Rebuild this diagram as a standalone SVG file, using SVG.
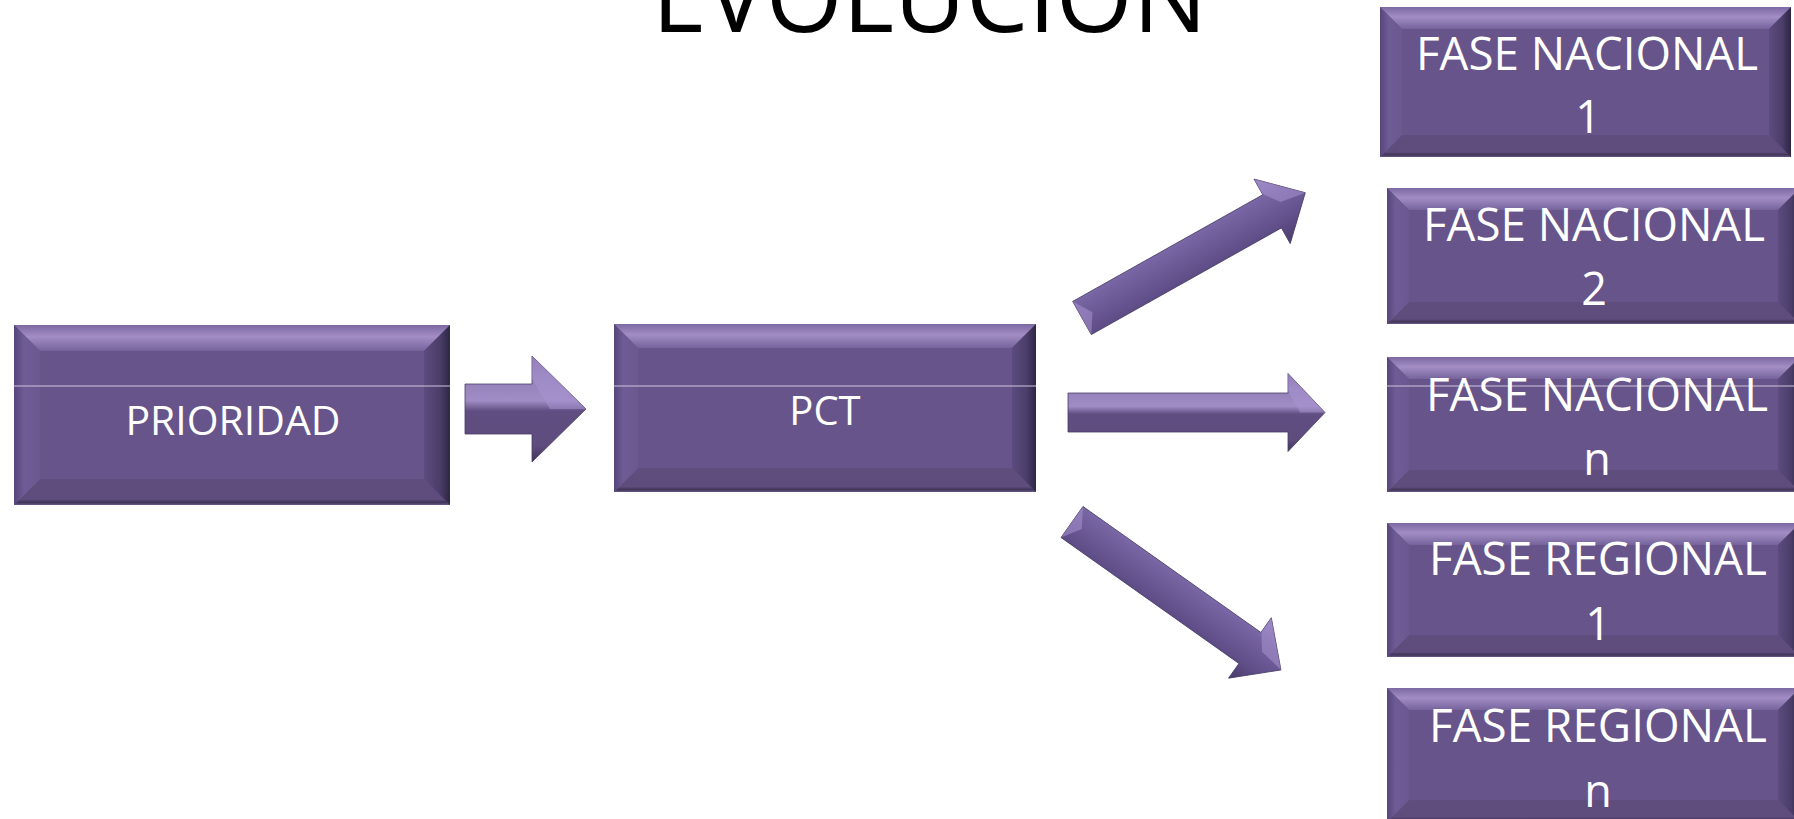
<svg xmlns="http://www.w3.org/2000/svg" width="1794" height="819" viewBox="0 0 1794 819">
<style>
.face{fill:#67548a}
.bt{fill:url(#gTop)}
.bb{fill:url(#gBot)}
.bl{fill:url(#gLeft)}
.br{fill:url(#gRight)}
.lbl{fill:#ffffff;font-family:"Open Sans","Liberation Sans",sans-serif;text-anchor:middle}
.title{fill:#000000;font-family:"Open Sans","Liberation Sans",sans-serif;font-size:98px}
.hl{stroke:#cdc3dc;stroke-width:1.2}
.ashaft{fill:url(#gArrowH);stroke:#4a3d68;stroke-width:0.8}
.adiag{fill:url(#gArrowD);stroke:#4a3d68;stroke-width:0.8}
.facet{fill:#a893cf;opacity:0.55}
</style>
<defs>
<linearGradient id="gTop" x1="0" y1="0" x2="0" y2="1">
<stop offset="0" stop-color="#7d69a2"/><stop offset="0.45" stop-color="#a28ec4"/><stop offset="1" stop-color="#76639c"/>
</linearGradient>
<linearGradient id="gBot" x1="0" y1="0" x2="0" y2="1">
<stop offset="0" stop-color="#5f4d7e"/><stop offset="0.78" stop-color="#5e4c7c"/><stop offset="0.9" stop-color="#3f3458"/><stop offset="1" stop-color="#6a5a86"/>
</linearGradient>
<linearGradient id="gLeft" x1="0" y1="0" x2="1" y2="0">
<stop offset="0" stop-color="#56467a"/><stop offset="0.4" stop-color="#6f5c96"/><stop offset="1" stop-color="#6a588f"/>
</linearGradient>
<linearGradient id="gRight" x1="0" y1="0" x2="1" y2="0">
<stop offset="0" stop-color="#5c4b7e"/><stop offset="0.6" stop-color="#4b3e6a"/><stop offset="1" stop-color="#2e2644"/>
</linearGradient>
<linearGradient id="gArrowH" x1="0" y1="0" x2="0" y2="1">
<stop offset="0" stop-color="#7a66a0"/><stop offset="0.18" stop-color="#927eb7"/><stop offset="0.42" stop-color="#a18dc5"/><stop offset="0.52" stop-color="#604e82"/><stop offset="0.85" stop-color="#5e4c7d"/><stop offset="1" stop-color="#3f3358"/>
</linearGradient>
<linearGradient id="gArrowD" x1="0" y1="0" x2="0" y2="1">
<stop offset="0" stop-color="#9180bc"/><stop offset="0.3" stop-color="#7664a2"/><stop offset="0.7" stop-color="#604f89"/><stop offset="1" stop-color="#4a3c6b"/>
</linearGradient>
</defs>

<text class="title" x="652" y="32" textLength="555" lengthAdjust="spacingAndGlyphs">EVOLUCION</text>

<g id="node-prioridad">
<rect class="face" x="14" y="325" width="436" height="180"/>
<polygon class="bt" points="14,325 450,325 424,351 40,351"/>
<polygon class="bb" points="14,505 450,505 424,479 40,479"/>
<polygon class="bl" points="14,325 40,351 40,479 14,505"/>
<polygon class="br" points="450,325 424,351 424,479 450,505"/>
<line class="hl" x1="14" y1="386" x2="450" y2="386"/>
<text class="lbl" x="233" y="435" font-size="40" textLength="215" lengthAdjust="spacingAndGlyphs">PRIORIDAD</text>
</g>

<g id="node-pct">
<rect class="face" x="614" y="324" width="422" height="168"/>
<polygon class="bt" points="614,324 1036,324 1012,348 638,348"/>
<polygon class="bb" points="614,492 1036,492 1012,468 638,468"/>
<polygon class="bl" points="614,324 638,348 638,468 614,492"/>
<polygon class="br" points="1036,324 1012,348 1012,468 1036,492"/>
<line class="hl" x1="614" y1="386" x2="1036" y2="386"/>
<text class="lbl" x="825" y="425" font-size="40">PCT</text>
</g>

<g id="node-fn1">
<rect class="face" x="1380" y="7" width="411" height="150"/>
<polygon class="bt" points="1380,7 1791,7 1769,29 1402,29"/>
<polygon class="bb" points="1380,157 1791,157 1769,135 1402,135"/>
<polygon class="bl" points="1380,7 1402,29 1402,135 1380,157"/>
<polygon class="br" points="1791,7 1769,29 1769,135 1791,157"/>
<text class="lbl" x="1587" y="70" font-size="45" textLength="342" lengthAdjust="spacingAndGlyphs">FASE NACIONAL</text>
<text class="lbl" x="1588" y="133" font-size="45">1</text>
</g>

<g id="node-fn2">
<rect class="face" x="1387" y="188" width="413" height="136"/>
<polygon class="bt" points="1387,188 1800,188 1778,210 1409,210"/>
<polygon class="bb" points="1387,324 1800,324 1778,302 1409,302"/>
<polygon class="bl" points="1387,188 1409,210 1409,302 1387,324"/>
<polygon class="br" points="1800,188 1778,210 1778,302 1800,324"/>
<text class="lbl" x="1594" y="241" font-size="45" textLength="342" lengthAdjust="spacingAndGlyphs">FASE NACIONAL</text>
<text class="lbl" x="1594" y="305" font-size="45">2</text>
</g>

<g id="node-fnn">
<rect class="face" x="1387" y="357" width="413" height="135"/>
<polygon class="bt" points="1387,357 1800,357 1778,379 1409,379"/>
<polygon class="bb" points="1387,492 1800,492 1778,470 1409,470"/>
<polygon class="bl" points="1387,357 1409,379 1409,470 1387,492"/>
<polygon class="br" points="1800,357 1778,379 1778,470 1800,492"/>
<line class="hl" x1="1387" y1="386" x2="1794" y2="386"/>
<text class="lbl" x="1597" y="411" font-size="45" textLength="342" lengthAdjust="spacingAndGlyphs">FASE NACIONAL</text>
<text class="lbl" x="1597" y="475" font-size="45">n</text>
</g>

<g id="node-fr1">
<rect class="face" x="1387" y="523" width="413" height="134"/>
<polygon class="bt" points="1387,523 1800,523 1778,545 1409,545"/>
<polygon class="bb" points="1387,657 1800,657 1778,635 1409,635"/>
<polygon class="bl" points="1387,523 1409,545 1409,635 1387,657"/>
<polygon class="br" points="1800,523 1778,545 1778,635 1800,657"/>
<text class="lbl" x="1598" y="575" font-size="45" textLength="338" lengthAdjust="spacingAndGlyphs">FASE REGIONAL</text>
<text class="lbl" x="1598" y="640" font-size="45">1</text>
</g>

<g id="node-frn">
<rect class="face" x="1387" y="688" width="413" height="134"/>
<polygon class="bt" points="1387,688 1800,688 1778,710 1409,710"/>
<polygon class="bb" points="1387,822 1800,822 1778,800 1409,800"/>
<polygon class="bl" points="1387,688 1409,710 1409,800 1387,822"/>
<polygon class="br" points="1800,688 1778,710 1778,800 1800,822"/>
<text class="lbl" x="1598" y="742" font-size="45" textLength="338" lengthAdjust="spacingAndGlyphs">FASE REGIONAL</text>
<text class="lbl" x="1598" y="807" font-size="45">n</text>
</g>

<g id="connectors">
<g transform="translate(465,409)">
<path class="ashaft" d="M0,-25 L67,-25 L67,-53 L121,0 L67,53 L67,25 L0,25 Z"/>
<polygon class="facet" points="67,-53 121,0 85,0 67,-30"/>
</g>
<g transform="translate(1068,412.5)">
<path class="ashaft" d="M0,-19.5 L220,-19.5 L220,-39 L257,0 L220,39 L220,19.5 L0,19.5 Z"/>
<polygon class="facet" points="220,-39 257,0 232,0 220,-22"/>
</g>
<g transform="translate(1082,318) rotate(-29.3)">
<path class="adiag" d="M0,-19 L218,-19 L218,-37 L256,0 L218,37 L218,19 L0,19 Z"/>
<polygon class="facet" points="218,-37 256,0 230,-4 218,-20"/>
<polygon class="facet" points="0,-19 12,0 0,19"/>
</g>
<g transform="translate(1072,522) rotate(35.3)">
<path class="adiag" d="M0,-19 L218,-19 L218,-37 L256,0 L218,37 L218,19 L0,19 Z"/>
<polygon class="facet" points="218,-37 256,0 230,-4 218,-20"/>
<polygon class="facet" points="0,-19 12,0 0,19"/>
</g>
</g>
</svg>
